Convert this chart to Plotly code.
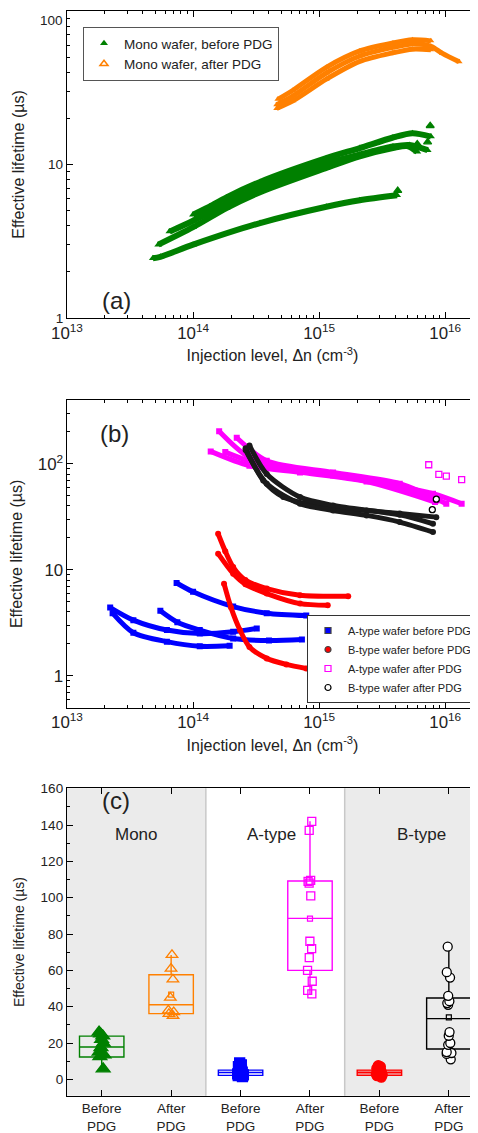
import plotly.graph_objects as go

FONT = "Arial, Liberation Sans, Helvetica, sans-serif"

# ---------------- Panel (a): Mono wafer ----------------
mono_b1_x = [4.8e13, 5.5e13, 1.0e14, 3.4e14, 1.14e15, 2.1e15, 4.15e15]
mono_b1_y = [2.45, 2.5, 3.0, 4.15, 5.3, 5.85, 6.3]
mono_b2_x = [1.0e14, 1.35e14, 1.84e14, 3.4e14, 1.14e15, 2.1e15, 3.85e15, 5.5e15, 7.7e15]
mono_b2_y = [4.7, 5.3, 6.1, 7.7, 11.0, 12.8, 15.0, 16.0, 15.2]
mono_b3_x = [6.5e13, 1.0e14, 1.84e14, 3.4e14, 1.14e15, 2.1e15, 3.85e15, 5.2e15, 7.25e15]
mono_b3_y = [3.65, 4.3, 5.6, 7.1, 10.2, 11.6, 13.1, 13.4, 12.4]
mono_b4_x = [5.3e13, 1.0e14, 1.84e14, 3.4e14, 1.14e15, 2.1e15, 3.85e15, 5.0e15, 6.0e15]
mono_b4_y = [3.0, 3.9, 5.2, 6.6, 9.5, 11.3, 12.8, 13.2, 12.1]
mono_b_iso_x = [7.6e15, 7.25e15, 6.0e15, 4.2e15]
mono_b_iso_y = [17.9, 14.0, 13.6, 6.75]

mono_a1_x = [4.7e14, 6.2e14, 1.14e15, 2.1e15, 3.85e15, 5.5e15, 7.7e15]
mono_a1_y = [26.6, 30.5, 43.0, 55.0, 62.0, 65.0, 64.0]
mono_a2_x = [4.6e14, 6.2e14, 1.14e15, 2.1e15, 3.85e15, 5.5e15, 7.7e15, 9.5e15, 1.29e16]
mono_a2_y = [24.5, 28.0, 39.5, 51.0, 58.0, 61.0, 59.0, 53.0, 46.7]
mono_a3_x = [4.6e14, 6.2e14, 1.14e15, 2.1e15, 3.85e15, 5.5e15, 7.7e15]
mono_a3_y = [23.2, 26.0, 36.0, 47.0, 53.5, 56.5, 56.0]

# ---------------- Panel (b): A-type / B-type wafers ----------------
a_bef1_x = [7.4e13, 1.0e14, 2.08e14, 3.84e14, 7.9e14]
a_bef1_y = [7.5, 6.2, 4.5, 3.9, 3.7]
a_bef2_x = [5.5e13, 7.5e13, 1.13e14, 2.08e14, 4.0e14, 7.3e14]
a_bef2_y = [4.1, 3.2, 2.7, 2.25, 2.15, 2.2]
a_bef3_x = [2.2e13, 3.36e13, 6.2e13, 1.13e14, 2.08e14, 3.2e14]
a_bef3_y = [4.4, 3.35, 2.7, 2.5, 2.6, 2.8]
a_bef4_x = [2.3e13, 3.36e13, 6.2e13, 1.13e14, 1.95e14]
a_bef4_y = [3.9, 2.55, 2.1, 1.9, 1.92]

b_bef1_x = [1.58e14, 1.8e14, 2.08e14, 2.6e14, 3.84e14, 7.05e14, 1.7e15]
b_bef1_y = [21.9, 15.0, 10.6, 8.0, 6.65, 5.75, 5.63]
b_bef2_x = [1.58e14, 2.08e14, 2.6e14, 3.84e14, 7.05e14, 1.17e15]
b_bef2_y = [14.2, 9.2, 7.3, 5.97, 4.8, 4.63]
b_bef3_x = [1.76e14, 2.0e14, 2.36e14, 2.8e14, 3.84e14, 5.5e14, 7.9e14]
b_bef3_y = [7.4, 4.4, 2.69, 1.87, 1.46, 1.28, 1.17]

a_aft1_x = [1.61e14, 2.8e14, 7.05e14, 2.38e15, 8.0e15, 1.35e16]
a_aft1_y = [203, 115, 86.5, 69.6, 52.2, 42]
a_aft2_x = [2.22e14, 3.84e14, 1.29e15, 4.36e15, 1.02e16]
a_aft2_y = [176, 107, 83, 65, 42]
a_aft3_x = [1.38e14, 2.8e14, 7.05e14, 2.38e15, 8.3e15]
a_aft3_y = [131, 96, 83, 68, 43.6]
a_aft4_x = [1.8e14, 3.84e14, 1.29e15, 4.36e15, 8.5e15]
a_aft4_y = [129, 94, 77.6, 60, 45]
a_aft_iso_x = [7.4e15, 8.9e15, 1.02e16, 1.35e16]
a_aft_iso_y = [98, 79.4, 76.4, 71]

b_aft1_x = [2.61e14, 3.6e14, 5.2e14, 9.5e14, 2.38e15, 4.36e15, 8.5e15]
b_aft1_y = [140, 69.6, 48.5, 40.5, 36.3, 34, 31.4]
b_aft2_x = [2.8e14, 3.84e14, 7.05e14, 1.29e15, 4.36e15, 8.0e15]
b_aft2_y = [149, 80, 48.5, 40.5, 33, 27.2]
b_aft3_x = [2.61e14, 3.84e14, 7.05e14, 1.29e15, 2.38e15, 4.36e15, 8.0e15]
b_aft3_y = [135, 65, 42, 36.3, 32.6, 28.2, 22.7]
b_aft_iso_x = [8.5e15, 7.9e15]
b_aft_iso_y = [46.4, 36.9]

# ---------------- Panel (c): box plots ----------------
cat_pos = [1, 2, 3, 4, 5, 6]
cat_labels = ["Before<br>PDG", "After<br>PDG"] * 3
group_labels = ["Mono", "A-type", "B-type"]

mono_before_pts = [5.8, 12.5, 13.5, 15, 17.5, 20, 22, 24, 25, 26]
mono_after_pts = [35, 36, 37, 38, 45, 55, 61, 68.5]
a_before_pts = [1.5, 2, 2.5, 3, 3.5, 4, 4.5, 5, 6, 7, 8, 9]
a_after_pts = [47, 49, 54, 60, 67, 72, 76, 101, 108, 109, 109.5, 137, 142]
b_before_pts = [1.2, 2, 2.5, 3, 3.5, 4, 4.5, 5, 5.5, 6, 7, 7.5]
b_after_pts = [11, 14, 14.5, 15, 19, 20, 24, 26, 41, 42, 43, 46, 56, 59, 73]

box_q1 = [12.3, 36.2, 2.2, 60.0, 2.2, 16.7]
box_med = [17.8, 41.1, 3.8, 88.6, 3.8, 33.4]
box_q3 = [23.8, 57.6, 5.1, 109.2, 5.1, 44.8]
box_low = [5.8, 35.0, 1.5, 47.0, 1.2, 11.0]
box_high = [26.0, 68.5, 9.0, 142.0, 7.5, 73.0]
box_mean = [18.0, 46.6, 4.5, 88.5, 4.2, 34.1]

# tick labels of panel (a) y axis
a_ytick_vals = [1, 10, 100]
a_ytick_text = ["1", "10", "100"]

GREEN, ORANGE, BLUE, MAGENTA, RED, BLACK = "#008000", "#ff8000", "#0000ff", "#ff00ff", "#ff0000", "#000000"

fig = go.Figure()


def curve(x, y, color, xa, ya, symbol, width=5, size=6):
    fig.add_trace(go.Scatter(
        x=x, y=y, mode="lines+markers", xaxis=xa, yaxis=ya, showlegend=False,
        line=dict(color=color, width=width, shape="spline", smoothing=0.8),
        marker=dict(color=color, size=size, symbol=symbol), hoverinfo="skip"))


def iso(x, y, color, xa, ya, symbol, size=6, fill=None):
    fig.add_trace(go.Scatter(
        x=x, y=y, mode="markers", xaxis=xa, yaxis=ya, showlegend=False,
        marker=dict(color=fill or color, size=size, symbol=symbol,
                    line=dict(color=color, width=1.3)), hoverinfo="skip"))


# panel (a)
for xs, ys in [(mono_b1_x, mono_b1_y), (mono_b2_x, mono_b2_y),
               (mono_b3_x, mono_b3_y), (mono_b4_x, mono_b4_y)]:
    curve(xs, ys, GREEN, "x", "y", "triangle-up", width=6, size=7)
iso(mono_b_iso_x, mono_b_iso_y, GREEN, "x", "y", "triangle-up", size=7)
for xs, ys in [(mono_a1_x, mono_a1_y), (mono_a2_x, mono_a2_y), (mono_a3_x, mono_a3_y)]:
    curve(xs, ys, ORANGE, "x", "y", "triangle-up", width=5, size=6)

# legend (a)
fig.add_trace(go.Scatter(x=[None], y=[None], mode="markers", name="Mono wafer, before PDG",
                         marker=dict(color=GREEN, symbol="triangle-up", size=7), xaxis="x", yaxis="y",
                         legend="legend"))
fig.add_trace(go.Scatter(x=[None], y=[None], mode="markers", name="Mono wafer, after PDG",
                         marker=dict(color=ORANGE, symbol="triangle-up-open", size=7,
                                     line=dict(width=1.5)), xaxis="x", yaxis="y",
                         legend="legend"))

# panel (b)
for xs, ys in [(a_bef1_x, a_bef1_y), (a_bef2_x, a_bef2_y), (a_bef3_x, a_bef3_y), (a_bef4_x, a_bef4_y)]:
    curve(xs, ys, BLUE, "x2", "y2", "square", width=5, size=6)
for xs, ys in [(b_bef1_x, b_bef1_y), (b_bef2_x, b_bef2_y), (b_bef3_x, b_bef3_y)]:
    curve(xs, ys, RED, "x2", "y2", "circle", width=5, size=6)
for xs, ys in [(a_aft1_x, a_aft1_y), (a_aft2_x, a_aft2_y), (a_aft3_x, a_aft3_y), (a_aft4_x, a_aft4_y)]:
    curve(xs, ys, MAGENTA, "x2", "y2", "square", width=5, size=6)
iso(a_aft_iso_x, a_aft_iso_y, MAGENTA, "x2", "y2", "square-open", size=6)
for xs, ys in [(b_aft1_x, b_aft1_y), (b_aft2_x, b_aft2_y), (b_aft3_x, b_aft3_y)]:
    curve(xs, ys, "#1a1a1a", "x2", "y2", "circle", width=5, size=6)
iso(b_aft_iso_x, b_aft_iso_y, BLACK, "x2", "y2", "circle", size=6, fill="white")

for name, col, sym in [("A-type wafer before PDG", BLUE, "square"),
                       ("B-type wafer before PDG", RED, "circle"),
                       ("A-type wafer after PDG", MAGENTA, "square-open"),
                       ("B-type wafer after PDG", BLACK, "circle-open")]:
    fig.add_trace(go.Scatter(x=[None], y=[None], mode="markers", name=name,
                             marker=dict(color=col, symbol=sym, size=6, line=dict(width=1.2)),
                             xaxis="x2", yaxis="y2", legend="legend2"))

# panel (c)
box_colors = [GREEN, ORANGE, BLUE, MAGENTA, RED, BLACK]
box_fills = ["rgba(0,0,0,0)", "rgba(0,0,0,0)", "rgba(0,0,0,0)", "rgba(0,0,0,0)",
             "rgba(255,0,0,0.35)", "rgba(0,0,0,0)"]
pt_sets = [mono_before_pts, mono_after_pts, a_before_pts, a_after_pts, b_before_pts, b_after_pts]
pt_syms = ["triangle-up", "triangle-up-open", "square", "square-open", "circle", "circle"]
pt_fill = [GREEN, ORANGE, BLUE, MAGENTA, RED, "white"]
pt_size = [12, 10, 10, 8, 10, 9]

for i in range(6):
    fig.add_trace(go.Box(
        x=[cat_pos[i]], q1=[box_q1[i]], median=[box_med[i]], q3=[box_q3[i]],
        lowerfence=[box_low[i]], upperfence=[box_high[i]],
        width=0.64, whiskerwidth=0, boxpoints=False,
        line=dict(color=box_colors[i], width=1.4), fillcolor=box_fills[i],
        xaxis="x3", yaxis="y3", showlegend=False, hoverinfo="skip"))
    fig.add_trace(go.Box(
        x=[cat_pos[i]] * len(pt_sets[i]), y=pt_sets[i], boxpoints="all", jitter=0.35, pointpos=0,
        width=0.3, line=dict(width=0, color="rgba(0,0,0,0)"), fillcolor="rgba(0,0,0,0)",
        marker=dict(symbol=pt_syms[i], size=pt_size[i], color=pt_fill[i],
                    line=dict(color=box_colors[i], width=1.3)),
        xaxis="x3", yaxis="y3", showlegend=False, hoverinfo="skip"))
    fig.add_trace(go.Scatter(
        x=[cat_pos[i]], y=[box_mean[i]], mode="markers", xaxis="x3", yaxis="y3", showlegend=False,
        marker=dict(symbol="square-open", size=5, color=box_colors[i], line=dict(width=1.2)),
        hoverinfo="skip"))

# ---------------- layout ----------------
# page body adds an 8px margin, so the figure is 8px smaller and reference pixels are shifted by 8
OFF = 8
W, H = 478 - OFF, 1133 - OFF


def px(xp):
    return (xp - OFF) / W


def py(yp):
    return 1 - (yp - OFF) / H


def ydom(top_px, bot_px):
    return [py(bot_px), py(top_px)]


XL = px(67)
TICKFONT = dict(family=FONT, size=13.5, color="#222")

axis_common = dict(showline=True, linecolor="black", linewidth=1.3, mirror="ticks",
                   ticks="inside", ticklen=6, tickcolor="black", showgrid=False, zeroline=False,
                   automargin=False, ticklabeloverflow="allow", tickfont=TICKFONT)
minor_log = dict(ticks="inside", ticklen=3, tickcolor="black", dtick="D1", showgrid=False)

xtitle = dict(text="Injection level, Δn (cm<sup>-3</sup>)", font=dict(family=FONT, size=16, color="#222"),
              standoff=8)
ytitle = dict(text="Effective lifetime (µs)", font=dict(family=FONT, size=16, color="#222"), standoff=13)
ytitle_a = dict(ytitle, standoff=19)

fig.update_layout(
    width=W, height=H, margin=dict(l=0, r=0, t=0, b=0, autoexpand=False),
    paper_bgcolor="white", plot_bgcolor="white", boxmode="overlay",
    font=dict(family=FONT, color="#222"),
    xaxis=dict(axis_common, type="log", range=[13, 16.26], dtick=1, exponentformat="power",
               domain=[XL, 1], anchor="y", minor=minor_log, title=xtitle),
    yaxis=dict(axis_common, type="log", range=[-0.001, 2.001], tickmode="array",
               tickvals=a_ytick_vals, ticktext=a_ytick_text[:-1] + [""],
               domain=ydom(11, 318), anchor="x", mirror=False, minor=minor_log, title=ytitle_a),
    xaxis2=dict(axis_common, type="log", range=[13, 16.26], dtick=1, exponentformat="power",
                domain=[XL, 1], anchor="y2", minor=minor_log, title=xtitle),
    yaxis2=dict(axis_common, type="log", range=[-0.301, 2.602], dtick=1, exponentformat="power",
                domain=ydom(400, 707.7), anchor="x2", mirror=False, minor=minor_log, title=ytitle),
    xaxis3=dict(axis_common, range=[0.5, 6.42], tickmode="array", tickvals=cat_pos, ticktext=cat_labels,
                domain=[XL, 1], anchor="y3"),
    yaxis3=dict(axis_common, range=[-9, 160.2], dtick=20, domain=ydom(788.3, 1095.7), anchor="x3",
                mirror=False, minor=dict(ticks="inside", ticklen=3, dtick=10, tickcolor="black"),
                title=dict(text="Effective lifetime (µs)", font=dict(family=FONT, size=14, color="#222"),
                           standoff=12)),
    legend=dict(x=px(83), y=py(27), xanchor="left", yanchor="top", bordercolor="#555",
                borderwidth=1, bgcolor="white", font=dict(family=FONT, size=13.5, color="#222"),
                tracegroupgap=0, itemsizing="trace"),
    legend2=dict(x=px(307), y=py(703), xanchor="left", yanchor="bottom", bordercolor="#333",
                 borderwidth=1, bgcolor="white", font=dict(family=FONT, size=11, color="#222"),
                 tracegroupgap=0, itemsizing="trace"),
)

# top tick label of panel (a): placed so that it is not clipped by the page edge
fig.add_annotation(text=a_ytick_text[-1], xref="paper", yref="y", x=XL, y=2, xanchor="right",
                   yanchor="top", xshift=-2, showarrow=False, font=TICKFONT)

# shaded group backgrounds and separators in panel (c)
dom3 = ydom(788.3, 1095.7)
for x0, x1 in [(0.5, 2.5), (4.5, 6.5)]:
    fig.add_shape(type="rect", xref="x3", yref="paper", x0=x0, x1=x1, y0=dom3[0], y1=dom3[1],
                  fillcolor="#ebebeb", line=dict(width=0), layer="below")
for xs in [2.5, 4.5]:
    fig.add_shape(type="line", xref="x3", yref="paper", x0=xs, x1=xs, y0=dom3[0], y1=dom3[1],
                  line=dict(color="#c8c8c8", width=1.5), layer="below")

ann = dict(showarrow=False, font=dict(family=FONT, size=24, color="#222"))
fig.add_annotation(text="(a)", xref="paper", yref="paper", x=px(100), y=py(285), **ann)
fig.add_annotation(text="(b)", xref="paper", yref="paper", x=px(98), y=py(433), **ann)
fig.add_annotation(text="(c)", xref="paper", yref="paper", x=px(100), y=py(816), **ann)
for gx, gl in zip([1.5, 3.45, 5.6], group_labels):
    fig.add_annotation(text=gl, xref="x3", yref="paper", x=gx, y=py(846), showarrow=False,
                       font=dict(family=FONT, size=17, color="#222"))

fig.write_html("out.html")
